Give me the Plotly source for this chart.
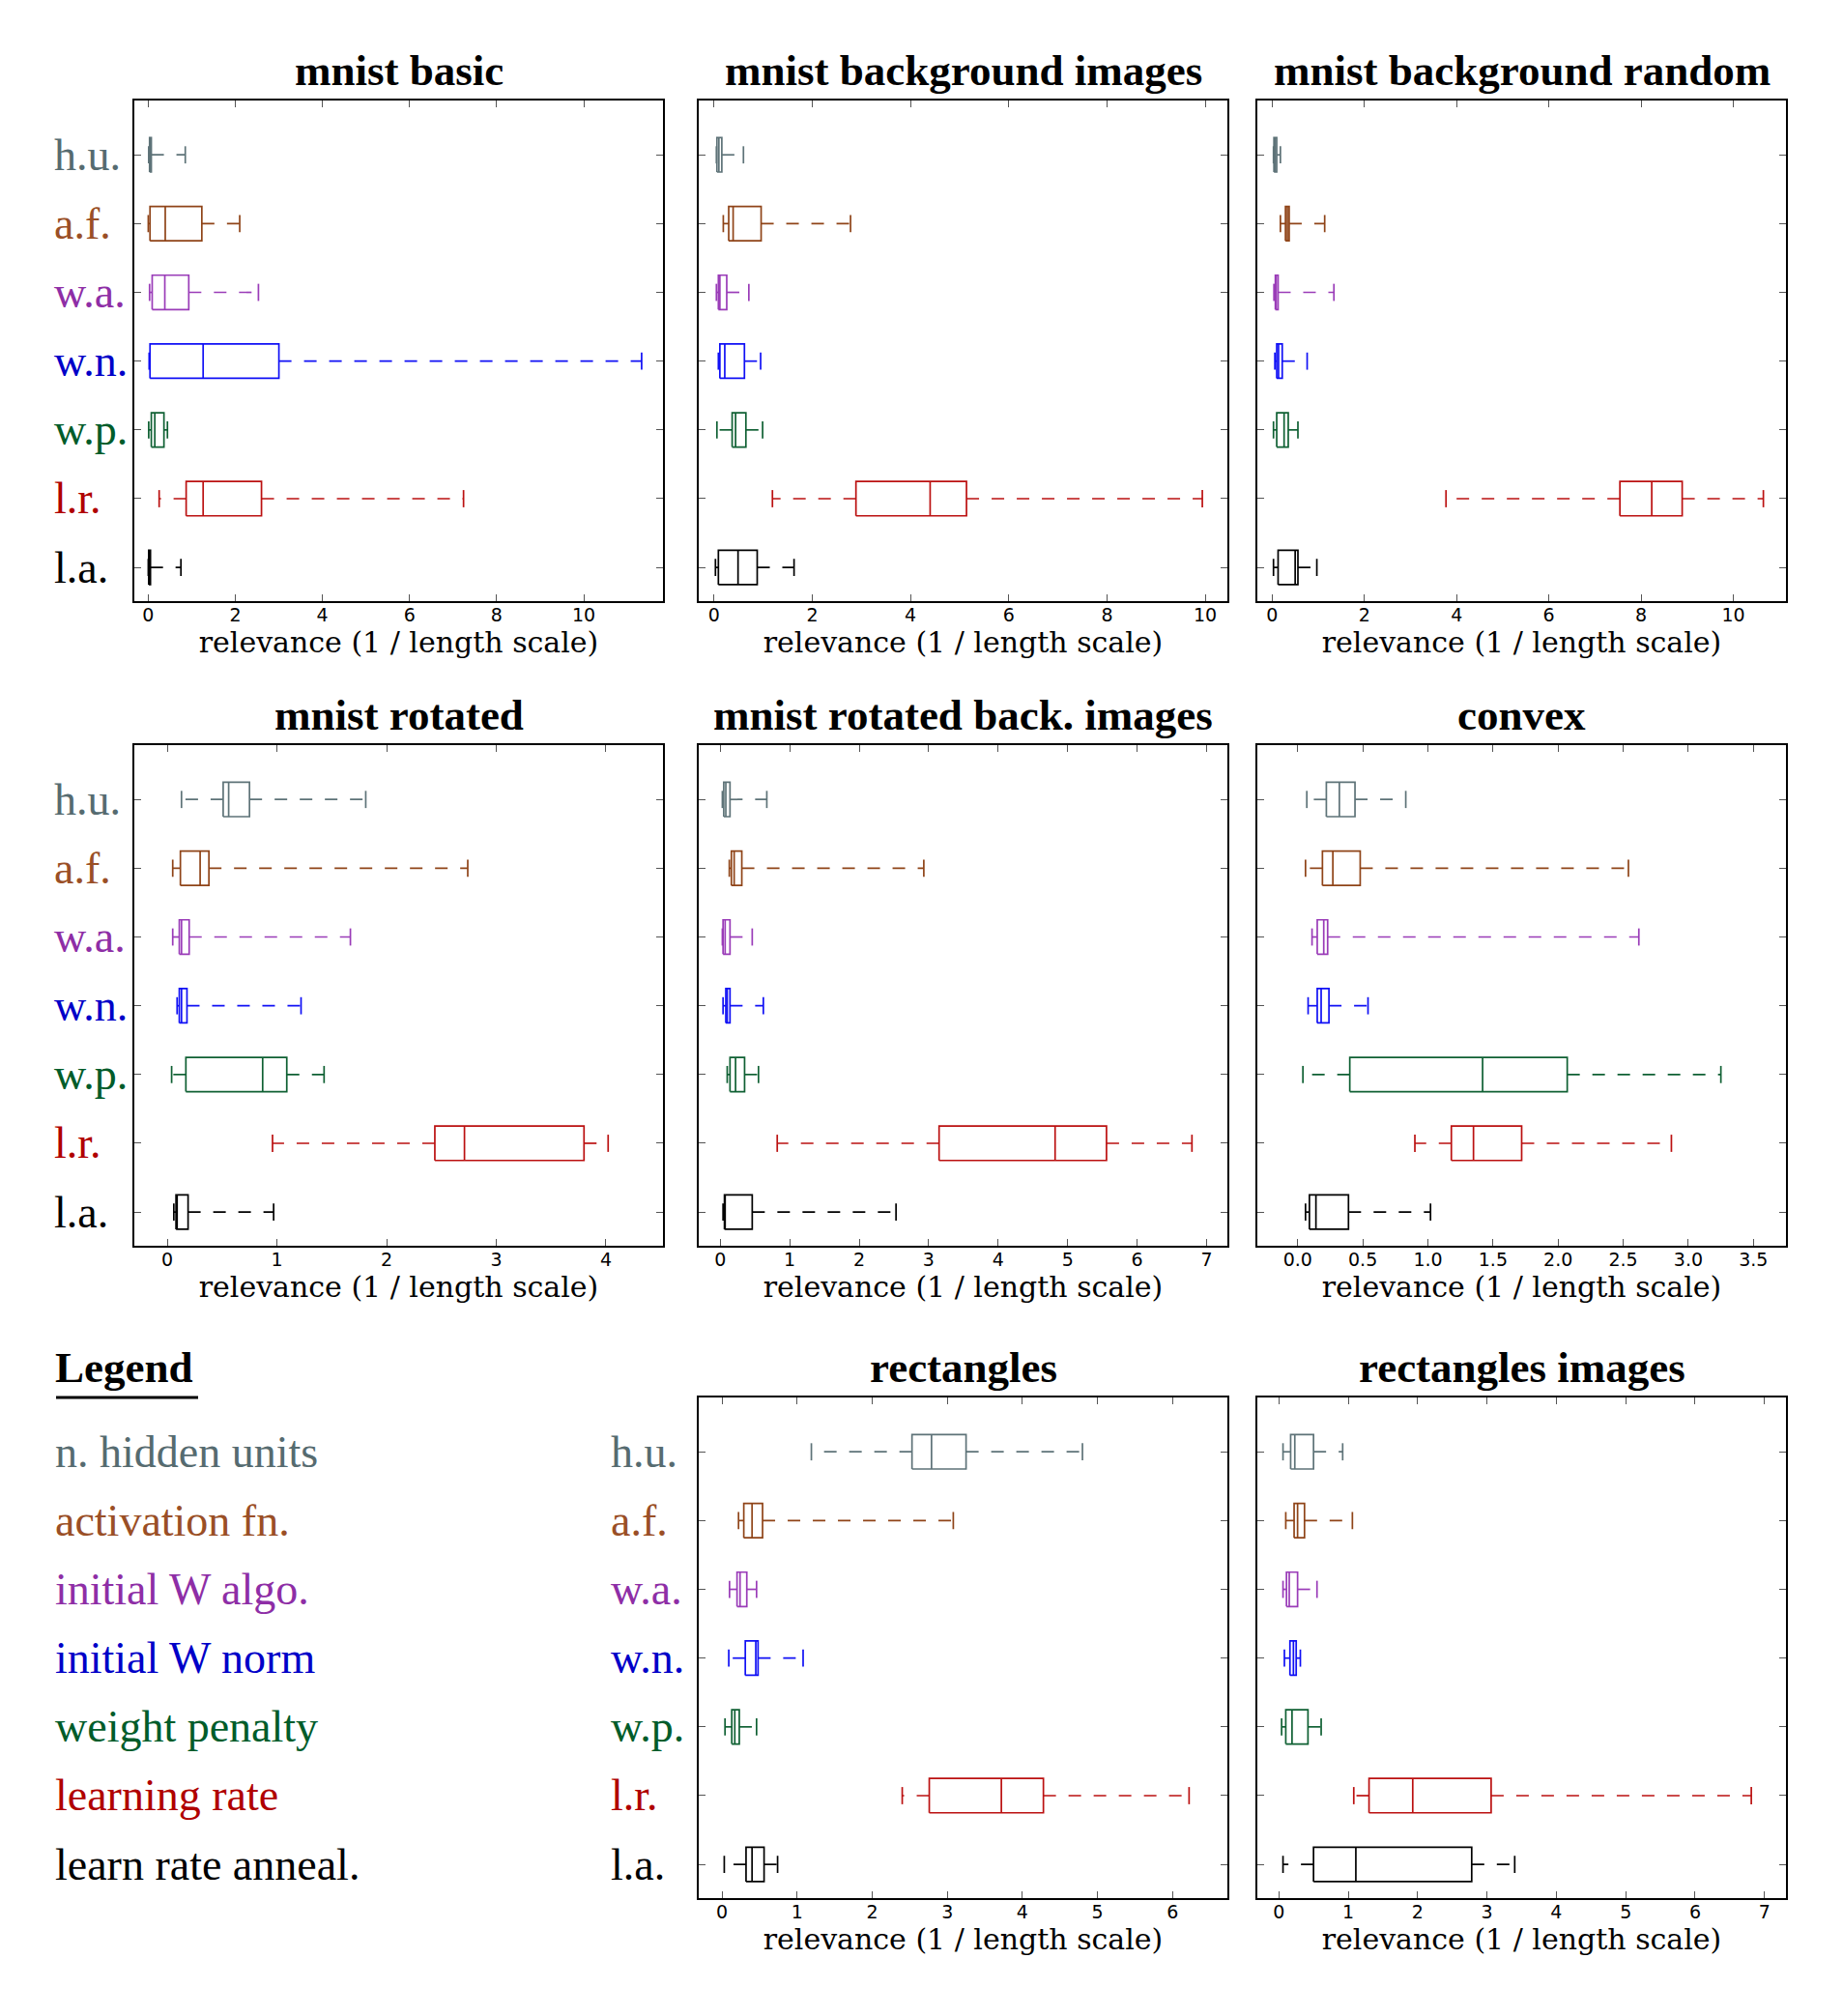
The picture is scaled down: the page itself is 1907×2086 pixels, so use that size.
import plotly.graph_objects as go

# --- categories (top to bottom) ---
labels = ["h.u.", "a.f.", "w.a.", "w.n.", "w.p.", "l.r.", "l.a."]
legend_names = ["n. hidden units", "activation fn.", "initial W algo.", "initial W norm",
                "weight penalty", "learning rate", "learn rate anneal."]
box_colors = ["#5e7378", "#8f4418", "#9a3cb8", "#1010f5", "#0f6033", "#bb1111", "#000000"]
text_colors = ["#566b70", "#9a4f26", "#8e2ea6", "#0000c8", "#005c2a", "#b00000", "#000000"]

# --- box statistics: whisker lo, q1, median, q3, whisker hi ---
basic_lo = [0.01, 0.00, 0.03, 0.02, 0.01, 0.25, 0.00]
basic_q1 = [0.03, 0.04, 0.09, 0.04, 0.07, 0.87, 0.01]
basic_med = [0.05, 0.39, 0.38, 1.26, 0.15, 1.26, 0.03]
basic_q3 = [0.07, 1.23, 0.93, 3.00, 0.36, 2.60, 0.05]
basic_hi = [0.85, 2.10, 2.53, 11.33, 0.44, 7.24, 0.75]

bgimg_lo = [0.05, 0.19, 0.05, 0.09, 0.06, 1.19, 0.03]
bgimg_q1 = [0.06, 0.30, 0.09, 0.12, 0.37, 2.89, 0.09]
bgimg_med = [0.10, 0.39, 0.12, 0.22, 0.44, 4.40, 0.49]
bgimg_q3 = [0.16, 0.96, 0.26, 0.62, 0.65, 5.14, 0.88]
bgimg_hi = [0.60, 2.78, 0.71, 0.95, 0.99, 9.94, 1.63]

bgrand_lo = [0.03, 0.18, 0.04, 0.06, 0.03, 3.77, 0.03]
bgrand_q1 = [0.04, 0.29, 0.07, 0.10, 0.10, 7.54, 0.13]
bgrand_med = [0.07, 0.33, 0.09, 0.14, 0.26, 8.23, 0.50]
bgrand_q3 = [0.10, 0.37, 0.13, 0.22, 0.35, 8.89, 0.56]
bgrand_hi = [0.18, 1.14, 1.34, 0.76, 0.56, 10.65, 0.97]

rot_lo = [0.13, 0.05, 0.05, 0.09, 0.04, 0.96, 0.06]
rot_q1 = [0.51, 0.12, 0.11, 0.11, 0.17, 2.44, 0.08]
rot_med = [0.56, 0.30, 0.13, 0.13, 0.87, 2.71, 0.09]
rot_q3 = [0.75, 0.38, 0.20, 0.18, 1.09, 3.80, 0.19]
rot_hi = [1.81, 2.74, 1.67, 1.22, 1.43, 4.02, 0.97]

rotbg_lo = [0.03, 0.13, 0.03, 0.04, 0.10, 0.82, 0.04]
rotbg_q1 = [0.05, 0.16, 0.04, 0.08, 0.14, 3.15, 0.06]
rotbg_med = [0.08, 0.20, 0.07, 0.10, 0.22, 4.82, 0.07]
rotbg_q3 = [0.14, 0.31, 0.14, 0.14, 0.35, 5.56, 0.46]
rotbg_hi = [0.67, 2.93, 0.46, 0.62, 0.55, 6.79, 2.53]

convex_lo = [0.07, 0.06, 0.11, 0.08, 0.04, 0.90, 0.06]
convex_q1 = [0.22, 0.19, 0.15, 0.15, 0.40, 1.18, 0.09]
convex_med = [0.32, 0.27, 0.20, 0.18, 1.42, 1.35, 0.14]
convex_q3 = [0.44, 0.48, 0.23, 0.24, 2.07, 1.72, 0.39]
convex_hi = [0.83, 2.54, 2.62, 0.54, 3.25, 2.87, 1.02]

rect_lo = [1.19, 0.22, 0.10, 0.09, 0.04, 2.40, 0.03]
rect_q1 = [2.53, 0.29, 0.20, 0.31, 0.13, 2.76, 0.32]
rect_med = [2.79, 0.40, 0.24, 0.45, 0.17, 3.72, 0.40]
rect_q3 = [3.25, 0.54, 0.33, 0.48, 0.23, 4.28, 0.56]
rect_hi = [4.80, 3.08, 0.46, 1.08, 0.46, 6.22, 0.74]

rectimg_lo = [0.06, 0.10, 0.06, 0.08, 0.04, 1.08, 0.06]
rectimg_q1 = [0.17, 0.22, 0.11, 0.16, 0.10, 1.30, 0.50]
rectimg_med = [0.23, 0.27, 0.15, 0.21, 0.19, 1.93, 1.11]
rectimg_q3 = [0.50, 0.37, 0.27, 0.25, 0.42, 3.06, 2.78]
rectimg_hi = [0.92, 1.06, 0.55, 0.31, 0.61, 6.81, 3.40]

# --- panel setup: title, stats, x range, tick step, tick format, grid cell, labels shown ---
W, H = 1907, 2086
OFF = 8  # page body margin
cols = [(139, 686), (723, 1270), (1301, 1848)]
rows = [(104, 622), (771, 1289), (1446, 1964)]

panels = [
    ("mnist basic", basic_lo, basic_q1, basic_med, basic_q3, basic_hi, [-0.32, 11.82], 2, "d", 0, 0, True),
    ("mnist background images", bgimg_lo, bgimg_q1, bgimg_med, bgimg_q3, bgimg_hi, [-0.31, 10.45], 2, "d", 0, 1, False),
    ("mnist background random", bgrand_lo, bgrand_q1, bgrand_med, bgrand_q3, bgrand_hi, [-0.32, 11.14], 2, "d", 0, 2, False),
    ("mnist rotated", rot_lo, rot_q1, rot_med, rot_q3, rot_hi, [-0.30, 4.52], 1, "d", 1, 0, True),
    ("mnist rotated back. images", rotbg_lo, rotbg_q1, rotbg_med, rotbg_q3, rotbg_hi, [-0.31, 7.30], 1, "d", 1, 1, False),
    ("convex", convex_lo, convex_q1, convex_med, convex_q3, convex_hi, [-0.31, 3.75], 0.5, ".1f", 1, 2, False),
    ("rectangles", rect_lo, rect_q1, rect_med, rect_q3, rect_hi, [-0.31, 6.73], 1, "d", 2, 1, True),
    ("rectangles images", rectimg_lo, rectimg_q1, rectimg_med, rectimg_q3, rectimg_hi, [-0.31, 7.31], 1, "d", 2, 2, False),
]

SERIF = "Liberation Serif"
SANS = "DejaVu Sans"
BOX_H = 0.25
CAP_H = 0.125
LINE_W = 1.7
LABEL_X = {0: (54 - OFF) / W, 1: (630 - OFF) / W}
LEG_X = (55 - OFF) / W

fig = go.Figure()
annotations = []
layout_axes = {}

for n, (title, lo, q1, med, q3, hi, xr, dt, fmt, r, c, show_labels) in enumerate(panels, start=1):
    xa = "x" if n == 1 else f"x{n}"
    ya = "y" if n == 1 else f"y{n}"
    for i in range(len(labels)):
        p = len(labels) - 1 - i
        solid_x = [q1[i], q3[i], q3[i], q1[i], q1[i], None,
                   med[i], med[i], None, lo[i], lo[i], None, hi[i], hi[i]]
        solid_y = [p - BOX_H, p - BOX_H, p + BOX_H, p + BOX_H, p - BOX_H, None,
                   p - BOX_H, p + BOX_H, None, p - CAP_H, p + CAP_H, None, p - CAP_H, p + CAP_H]
        fig.add_trace(go.Scatter(x=solid_x, y=solid_y, mode="lines", xaxis=xa, yaxis=ya,
                                 line=dict(color=box_colors[i], width=LINE_W),
                                 showlegend=False, hoverinfo="skip"))
        fig.add_trace(go.Scatter(x=[q1[i], lo[i], None, q3[i], hi[i]], y=[p, p, None, p, p],
                                 mode="lines", xaxis=xa, yaxis=ya,
                                 line=dict(color=box_colors[i], width=LINE_W, dash="13px,13px"),
                                 showlegend=False, hoverinfo="skip"))

    x0, x1 = cols[c]
    y0, y1 = rows[r]
    key = "" if n == 1 else str(n)
    layout_axes[f"xaxis{key}"] = dict(
        domain=[(x0 - OFF) / W, (x1 - OFF) / W], anchor=ya, range=xr, tick0=0, dtick=dt,
        tickformat=fmt, ticks="inside", ticklen=7, tickwidth=1.2, tickcolor="#555555",
        mirror="allticks", ticklabelstandoff=-4,
        showline=True, linecolor="black", linewidth=2, showgrid=False, zeroline=False,
        tickfont=dict(family=SANS, size=19, color="black"),
        title=dict(text="relevance (1 / length scale)", standoff=4,
                   font=dict(family="DejaVu Serif", size=30, color="black")),
    )
    layout_axes[f"yaxis{key}"] = dict(
        domain=[1 - (y1 - OFF) / H, 1 - (y0 - OFF) / H], anchor=xa, range=[-0.49, 6.79],
        tickvals=list(range(len(labels))), showticklabels=False,
        ticks="inside", ticklen=7, tickwidth=1.2, tickcolor="#555555", mirror="allticks",
        showline=True, linecolor="black", linewidth=2, showgrid=False, zeroline=False,
    )

    annotations.append(dict(
        text=f"<b>{title}</b>", xref=f"{xa} domain", yref=f"{ya} domain", x=0.5, y=1,
        xanchor="center", yanchor="bottom", yshift=4, showarrow=False,
        font=dict(family=SERIF, size=45, color="black"),
    ))
    if show_labels:
        for i, lab in enumerate(labels):
            annotations.append(dict(
                text=lab, xref="paper", yref=ya, x=LABEL_X[c], y=len(labels) - 1 - i,
                xanchor="left", yanchor="middle", showarrow=False,
                font=dict(family=SERIF, size=46, color=text_colors[i]),
            ))

# --- legend block, aligned with the rows of the "rectangles" panel ---
annotations.append(dict(
    text="<b>Legend</b>", xref="paper", yref="y7 domain", x=LEG_X, y=1,
    xanchor="left", yanchor="bottom", yshift=4, showarrow=False,
    font=dict(family=SERIF, size=45, color="black"),
))
for i, name in enumerate(legend_names):
    annotations.append(dict(
        text=name, xref="paper", yref="y7", x=LEG_X, y=len(labels) - 1 - i,
        xanchor="left", yanchor="middle", showarrow=False,
        font=dict(family=SERIF, size=46, color=text_colors[i]),
    ))

fig.update_layout(
    width=W, height=H,
    margin=dict(l=0, r=0, t=0, b=0),
    paper_bgcolor="white", plot_bgcolor="white",
    annotations=annotations,
    shapes=[dict(type="line", xref="paper", yref="y7 domain", x0=(58 - OFF) / W, x1=(205 - OFF) / W,
                 y0=1, y1=1, line=dict(color="black", width=3))],
    **layout_axes,
)

fig.write_html("out.html")
